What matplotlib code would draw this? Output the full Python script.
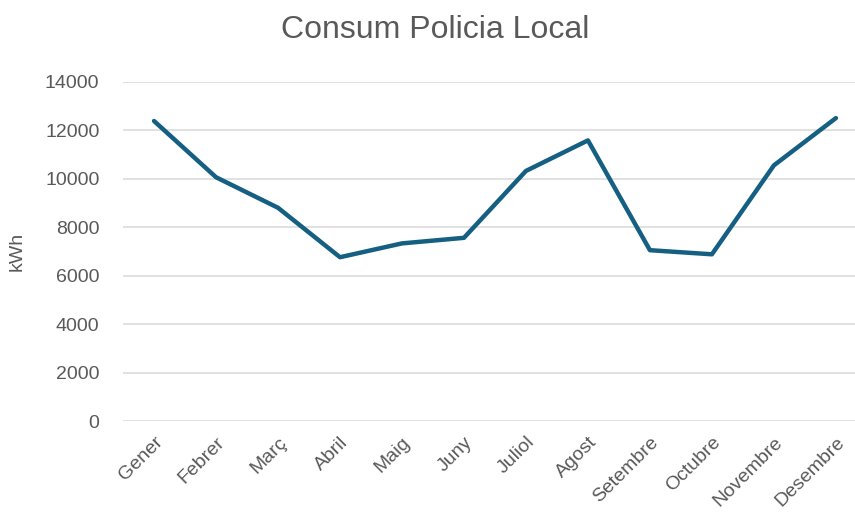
import matplotlib.pyplot as plt

# dades
mesos = ["Gener", "Febrer", "Març", "Abril", "Maig", "Juny", "Juliol",
         "Agost", "Setembre", "Octubre", "Novembre", "Desembre"]
consum_kwh = [12380, 10060, 8800, 6760, 7330, 7560, 10320,
              11580, 7050, 6880, 10550, 12500]
yticks = [0, 2000, 4000, 6000, 8000, 10000, 12000, 14000]

plt.rcParams['font.family'] = ['Liberation Sans', 'DejaVu Sans']
gris = '#595959'

fig = plt.figure(figsize=(8.55, 5.16), dpi=100)
ax = fig.add_axes([0.1439, 0.184, 0.870, 0.6576])

x = list(range(len(mesos)))
ax.plot(x, consum_kwh, color='#156082', linewidth=3.2, solid_joinstyle='round',
        solid_capstyle='round', zorder=3)

ax.set_xlim(-0.5, len(mesos) - 0.5)
ax.set_ylim(0, 14000)
ax.set_yticks(yticks)
ax.set_yticklabels([str(v) for v in yticks])
ax.set_xticks(x)
ax.set_xticklabels(mesos, rotation=45, ha='right', rotation_mode='anchor')

ax.grid(axis='y', color='#d9d9d9', linewidth=1.1)
ax.set_axisbelow(True)
for s in ax.spines.values():
    s.set_visible(False)
ax.tick_params(axis='both', length=0, colors=gris, labelsize=14)
ax.tick_params(axis='y', pad=17)
ax.tick_params(axis='x', pad=9)

ax.set_ylabel('kWh', color=gris, fontsize=14, labelpad=14)
fig.text(0.509, 0.942, 'Consum Policia Local', ha='center', va='center',
         color=gris, fontsize=23)

fig.savefig('out.png', dpi=100)
